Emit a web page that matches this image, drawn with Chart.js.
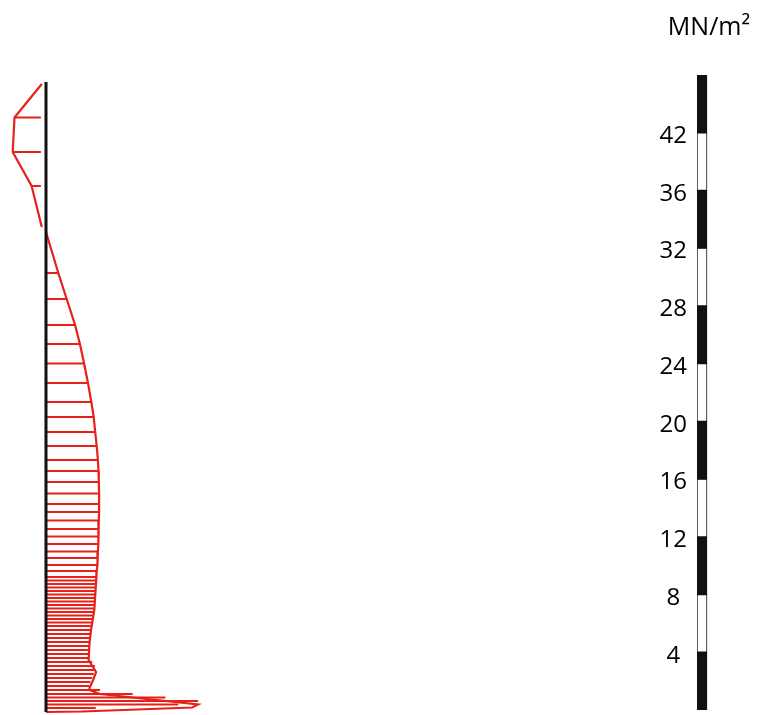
<!DOCTYPE html>
<html>
<head>
<meta charset="utf-8">
<script src="https://cdn.jsdelivr.net/npm/chart.js@4"></script>
<style>
  html, body { margin: 0; padding: 0; background: #fff; overflow: hidden; }
  #stress { position: absolute; left: 0; top: 0; }
  #scale { position: absolute; left: 657px; top: 0; }
</style>
</head>
<body>
<canvas id="stress" width="640" height="715"></canvas>
<canvas id="scale" width="104" height="715"></canvas>
<script>
// ------------------- Data -------------------
// height along the wall (from the bottom) and stress at that height
const posHeight = [480, 439, 413, 387, 368, 348.5, 329, 310, 295, 280, 266, 252, 241, 230, 218.5, 208, 200, 191.5, 183, 175.5, 168, 160.5, 154, 147, 141, 135, 102, 82, 69, 52, 40, 32, 24, 22, 18, 7.5, 4.5, 0.5, 0];
const posStress = [0, 4.1, 6.9, 9.7, 11.3, 12.7, 14.0, 15.1, 15.9, 16.4, 16.9, 17.3, 17.5, 17.6, 17.7, 17.7, 17.7, 17.6, 17.5, 17.5, 17.4, 17.3, 17.2, 17.1, 16.9, 16.8, 16.1, 15.0, 14.5, 14.2, 16.7, 15.7, 14.5, 14.5, 18.0, 50.7, 48.7, 12.0, 0];

const negHeight = [628, 594.5, 560, 526, 485];
const negStress = [-1.4, -10.5, -11.1, -4.8, -1.4];

// hatch lines (drawn from the base line out to the stress value)
const hatchHeight = [439, 413, 387, 368, 348.5, 329, 310, 295, 280, 266, 252, 241, 230, 218.5, 208, 200, 191.5, 183, 175.5, 168, 160.5, 154, 147, 141, 135, 131.5, 128, 124.5, 121, 117.5, 114, 110.5, 107, 103.5, 100, 96.5, 93, 89.5, 86, 82, 78, 74, 70, 66, 62, 58, 54, 50, 46, 42, 38, 34, 30, 26, 22, 18, 14.5, 11, 7.5, 4, 1];
const hatchStress = [4.1, 6.9, 9.7, 11.3, 12.7, 14.0, 15.1, 15.9, 16.4, 16.9, 17.3, 17.5, 17.6, 17.7, 17.7, 17.7, 17.6, 17.5, 17.5, 17.4, 17.3, 17.2, 17.1, 16.9, 16.8, 16.7, 16.6, 16.6, 16.5, 16.4, 16.3, 16.3, 16.2, 16.1, 16.0, 15.8, 15.6, 15.4, 15.2, 15.0, 14.8, 14.7, 14.5, 14.5, 14.4, 14.3, 14.2, 15.4, 16.3, 16.4, 15.9, 15.4, 14.8, 14.5, 18.0, 28.9, 39.8, 50.7, 44.1, 16.6];
const negHatchHeight = [594.5, 560, 526];
const negHatchStress = [-10.5, -11.1, -4.8];
const negHatchInner = -1.7;

const wallHeight = 630;

// scale bar
const segBounds = [0, 1, 2, 3, 4, 5, 6, 7, 8, 9, 10, 11];
const scaleLabels = ['4', '8', '12', '16', '20', '24', '28', '32', '36', '42'];

// ------------------- Stress diagram -------------------
const red = '#e8201a';

const hatchPts = [];
hatchHeight.forEach((h, i) => {
    hatchPts.push({ x: 0, y: h }, { x: hatchStress[i], y: h }, { x: 0, y: null });
});
negHatchHeight.forEach((h, i) => {
    hatchPts.push({ x: negHatchInner, y: h }, { x: negHatchStress[i], y: h }, { x: 0, y: null });
});

new Chart(document.getElementById('stress'), {
    type: 'line',
    data: {
        datasets: [
            { data: [{ x: 0, y: 0 }, { x: 0, y: wallHeight }], borderColor: '#111', borderWidth: 3 },
            { data: posHeight.map((h, i) => ({ x: posStress[i], y: h })), borderColor: red, borderWidth: 2.2 },
            { data: negHeight.map((h, i) => ({ x: negStress[i], y: h })), borderColor: red, borderWidth: 2.2 },
            { data: hatchPts, borderColor: red, borderWidth: 2 }
        ]
    },
    options: {
        responsive: false,
        animation: false,
        devicePixelRatio: 1,
        layout: { padding: 0 },
        elements: { point: { radius: 0 }, line: { tension: 0 } },
        plugins: { legend: { display: false }, tooltip: { enabled: false } },
        scales: {
            x: { type: 'linear', display: false, min: -46 / 3, max: 198 },
            y: { type: 'linear', display: false, min: -3, max: 712 }
        }
    }
});

// ------------------- Scale bar -------------------
new Chart(document.getElementById('scale'), {
    type: 'bar',
    data: {
        datasets: [{
            data: segBounds.slice(0, -1).map((b, i) => ({ x: 5, y: [b, segBounds[i + 1]] })),
            backgroundColor: ctx => ctx.dataIndex % 2 === 0 ? '#111' : '#fff',
            borderColor: '#111',
            borderWidth: 1,
            borderSkipped: false,
            barThickness: 10
        }]
    },
    options: {
        responsive: false,
        animation: false,
        devicePixelRatio: 1,
        layout: { padding: { top: 0, bottom: 5, left: 0, right: 0 } },
        plugins: {
            legend: { display: false },
            tooltip: { enabled: false },
            title: {
                display: true,
                text: 'MN/m²',
                color: '#000',
                font: { family: 'Open Sans', size: 25, weight: 'normal' },
                padding: { top: 13, bottom: 32 }
            }
        },
        scales: {
            x: { type: 'linear', display: false, offset: false, min: 0, max: 64 },
            y: {
                min: 0,
                max: 11,
                grid: { display: false, drawTicks: false },
                border: { display: false },
                // labels sit a little below the segment joints
                afterBuildTicks: s => { s.ticks = scaleLabels.map((l, i) => ({ value: i + 1 - 0.06 })); },
                afterFit: s => { s.width = 40; s.paddingTop = 0; s.paddingBottom = 0; },
                ticks: {
                    callback: (v, i) => scaleLabels[i],
                    crossAlign: 'center',
                    padding: 10,
                    color: '#000',
                    font: { family: 'Open Sans', size: 24 }
                }
            }
        }
    }
});
</script>
</body>
</html>
